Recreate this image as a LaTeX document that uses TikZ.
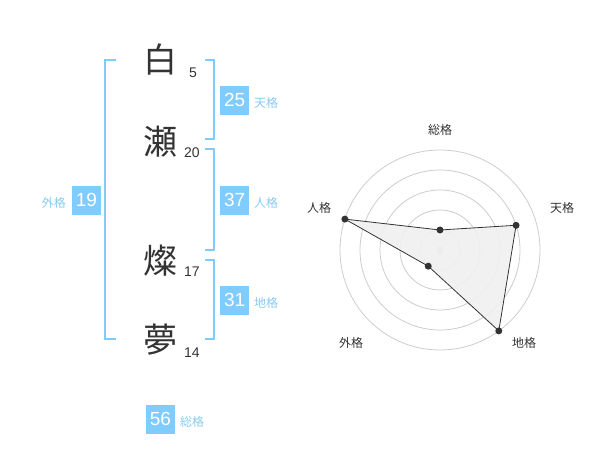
\documentclass[tikz,border=0pt]{standalone}
\usepackage{fontspec}
\setmainfont{Liberation Sans}
\newfontfamily\cjk{Noto Sans CJK JP}
\definecolor{bluebox}{HTML}{80CCFF}
\definecolor{bluetxt}{HTML}{88CCF0}
\definecolor{brk}{HTML}{80CCF8}
\definecolor{ink}{HTML}{333333}
\definecolor{ring}{HTML}{CCCCCC}
\begin{document}
\begin{tikzpicture}[x=1pt,y=-1pt,
  kanji/.style={inner sep=0pt,text=ink,font=\cjk\fontsize{34}{36}\selectfont},
  strokes/.style={inner sep=0pt,text=ink,font=\fontsize{14}{16}\selectfont},
  numbox/.style={fill=bluebox,text=white,minimum width=29pt,minimum height=29pt,inner sep=0pt,font=\fontsize{19}{21}\selectfont},
  kaku/.style={inner sep=0pt,text=bluetxt,font=\cjk\fontsize{12}{14}\selectfont},
  bracket/.style={draw=brk,line width=2pt},
  ringline/.style={draw=ring,line width=0.8pt},
  axislabel/.style={inner sep=0pt,text=ink,font=\cjk\fontsize{12}{14}\selectfont},
  dot/.style={circle,fill=ink,inner sep=0pt,minimum size=7pt}
]
\useasboundingbox (0,0) rectangle (600,470);
% kanji
\node[kanji] (k1) at (160,60) {白};
\node[kanji] (k2) at (160,142) {瀬};
\node[kanji] (k3) at (160,261) {燦};
\node[kanji] (k4) at (160,340) {夢};
\node[strokes] (s1) at (193,73) {5};
\node[strokes] (s2) at (192,153) {20};
\node[strokes] (s3) at (192,272) {17};
\node[strokes] (s4) at (192,353) {14};
% brackets
\draw[bracket] (116,60) -- (105,60) -- (105,339) -- (116,339);
\draw[bracket] (205,60) -- (214,60) -- (214,139) -- (205,139);
\draw[bracket] (205,149) -- (214,149) -- (214,250) -- (205,250);
\draw[bracket] (205,260) -- (214,260) -- (214,339) -- (205,339);
% boxes
\node[numbox] (ten) at (234.7,100.3) {25};
\node[kaku,anchor=west] (tenl) at (254,103) {天格};
\node[numbox] (jin) at (234.7,200.3) {37};
\node[kaku,anchor=west] (jinl) at (254,203) {人格};
\node[numbox] (chi) at (234.7,300.3) {31};
\node[kaku,anchor=west] (chil) at (254,303) {地格};
\node[numbox] (gai) at (86.5,200.3) {19};
\node[kaku,anchor=east] (gail) at (66,203) {外格};
\node[numbox] (sou) at (160.5,419) {56};
\node[kaku,anchor=west] (soul) at (180,422) {総格};
% radar
\foreach \r in {20,40,60,80,100} \draw[ringline] (440,250) circle (\r);
\node[circle,fill=ring,inner sep=0pt,minimum size=7pt] (c) at (440,250) {};
\coordinate (p1) at (440,230);
\coordinate (p2) at (516.08,225.28);
\coordinate (p3) at (498.78,330.90);
\coordinate (p4) at (428.24,266.18);
\coordinate (p5) at (344.90,219.10);
\fill[black!6,opacity=0.9] (p1) -- (p2) -- (p3) -- (p4) -- (p5) -- cycle;
\draw[ink,line width=0.8pt,line join=round] (p1) -- (p2) -- (p3) -- (p4) -- (p5) -- cycle;
\foreach \p in {p1,p2,p3,p4,p5} \node[dot] at (\p) {};
\node[axislabel] (a1) at (440,130) {総格};
\node[axislabel] (a2) at (562,208) {天格};
\node[axislabel] (a3) at (524,343) {地格};
\node[axislabel] (a4) at (351,343) {外格};
\node[axislabel] (a5) at (319,208) {人格};
\end{tikzpicture}
\end{document}
